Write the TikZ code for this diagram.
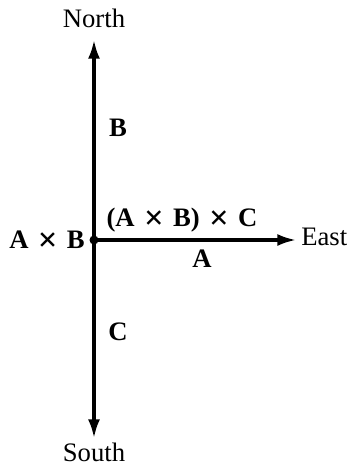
\documentclass[tikz,border=0pt]{standalone}
\usepackage{fontspec}
\usepackage{graphicx}
\setmainfont{Liberation Serif}
\usetikzlibrary{arrows.meta}
\newcommand{\tms}{\hspace{0.35em}\raisebox{-0.11em}{\scalebox{1.3}{×}}\hspace{0.35em}}
\begin{document}
\begin{tikzpicture}[x=0.75pt,y=-0.75pt,
  axis/.style={line width=2.3pt,-{Latex[length=14pt,width=9pt]}},
  lbl/.style={font=\fontsize{20}{22}\selectfont\bfseries,inner sep=0pt},
  dir/.style={font=\fontsize{20}{22}\selectfont,inner sep=0pt}]
\useasboundingbox (0,0) rectangle (351,465);
\coordinate (O) at (94,240);
\coordinate (Ntip) at (94,40);
\coordinate (Stip) at (94,438);
\coordinate (Etip) at (296,240);
\draw[axis] (O) -- (Ntip);
\draw[axis] (O) -- (Stip);
\draw[axis] (O) -- (Etip);
\fill (O) circle (4.5);
\node[dir] (north) at (94,18) {North};
\node[dir] (south) at (94,452) {South};
\node[dir,anchor=west] (east) at (301,237) {East};
\node[lbl] (AB) at (47,241) {A\tms B};
\node[lbl] (ABC) at (182,220) {(A\tms B)\tms C};
\node[lbl] (A) at (202,259) {A};
\node[lbl] (B) at (118,128) {B};
\node[lbl] (C) at (118,332) {C};
\end{tikzpicture}
\end{document}
